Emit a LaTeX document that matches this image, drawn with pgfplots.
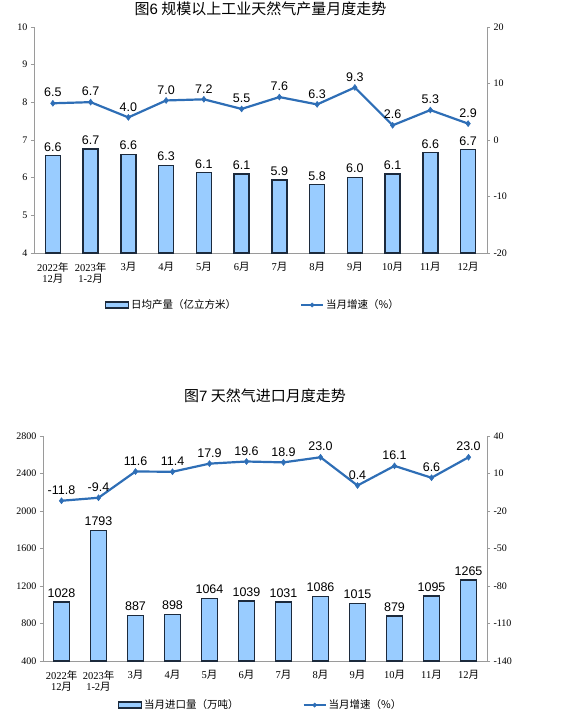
\documentclass[border=0pt]{standalone}
\usepackage{fontspec}
\usepackage{pgfplots}
\pgfplotsset{compat=1.18}
\setmainfont{Liberation Serif}
\newfontfamily\cjk{Noto Sans CJK SC}
\newfontfamily\arial{Liberation Sans}

\definecolor{barfill}{HTML}{99CCFF}
\definecolor{baredge}{HTML}{1C2A3C}
\definecolor{lineblue}{HTML}{2E6EB6}
\definecolor{axisgray}{HTML}{9A9A9A}

\pgfplotsset{
  common/.style={
    scale only axis,
    anchor=south west,
    xmin=-0.5, xmax=11.5,
    axis line style={axisgray, line width=0.8pt},
    tick style={axisgray, line width=0.8pt},
    tick align=outside,
    major tick length=3pt,
    /pgf/number format/assume math mode=true,
    /pgf/number format/1000 sep={},
    yticklabel style={font=\fontsize{10}{11}\selectfont, text=black},
    clip mode=individual,
  },
  barax/.style={
    common,
    axis y line*=left, axis x line*=bottom,
    xtick={0,...,11},
    major x tick style={draw=none},
    xticklabel style={align=center, font=\fontsize{10.5}{11.5}\selectfont, inner sep=1pt, yshift=-5pt},
    xticklabels={{2022{\cjk 年}\\12{\cjk 月}}, {2023{\cjk 年}\\1-2{\cjk 月}},
      3{\cjk 月}, 4{\cjk 月}, 5{\cjk 月}, 6{\cjk 月}, 7{\cjk 月}, 8{\cjk 月},
      9{\cjk 月}, 10{\cjk 月}, 11{\cjk 月}, 12{\cjk 月}},
    legend columns=2,
    legend style={draw=none, fill=none, anchor=center,
      font=\cjk\fontsize{10.5}{12}\selectfont,
      /tikz/every even column/.append style={column sep=62pt}},
  },
  lineax/.style={
    common,
    axis y line*=right, axis x line=none,
    xtick=\empty,
  },
  barplot/.style={
    ybar, fill=barfill, draw=baredge, line width=1.3pt,
    point meta=explicit symbolic,
    nodes near coords={\arial\fontsize{12.5}{13}\selectfont\pgfplotspointmeta},
    nodes near coords style={text=black, inner sep=1pt, yshift=3pt},
    legend image code/.code={\draw[fill=barfill, draw=baredge, line width=1.3pt] (0pt,-3pt) rectangle (23pt,3pt);},
  },
  lineplot/.style={
    lineblue, line width=2.2pt, mark=diamond*, mark size=3pt,
    mark options={solid, fill=lineblue, line width=0.5pt},
    point meta=explicit symbolic,
    nodes near coords={\arial\fontsize{12.5}{13}\selectfont\pgfplotspointmeta},
    nodes near coords style={text=black, inner sep=1pt, yshift=5pt},
  },
  linelegend/.style={
    legend image code/.code={\draw[lineblue, line width=2.2pt] (0pt,0pt) -- (22pt,0pt);
      \fill[lineblue] (11pt,0pt) +(0,2.2pt) -- +(2.2pt,0) -- +(0,-2.2pt) -- +(-2.2pt,0) -- cycle;},
  },
}

\begin{document}
\begin{tikzpicture}
\useasboundingbox (0,0) rectangle (560pt,-717pt);

% chart 6
\begin{axis}[barax, at={(34pt,-253pt)}, width=453pt, height=226pt,
    ymin=4, ymax=10, ytick={4,5,...,10}, bar width=15pt,
    title={\cjk 图{\arial 6} 规模以上工业天然气产量月度走势},
    title style={font=\fontsize{15}{16}\selectfont, inner sep=0pt, yshift=5pt},
    legend style={at={(0.483,-0.23)}}]
\addplot[barplot] coordinates {
  (0,6.58)[6.6] (1,6.76)[6.7] (2,6.62)[6.6] (3,6.32)[6.3] (4,6.13)[6.1] (5,6.10)[6.1]
  (6,5.94)[5.9] (7,5.81)[5.8] (8,6.00)[6.0] (9,6.10)[6.1] (10,6.66)[6.6] (11,6.74)[6.7]};
\addlegendentry{日均产量（亿立方米）}
\addlegendimage{linelegend}
\addlegendentry{当月增速（\%）}
\end{axis}
\begin{axis}[lineax, at={(34pt,-253pt)}, width=453pt, height=226pt,
    ymin=-20, ymax=20, ytick={-20,-10,...,20}]
\addplot[lineplot] coordinates {
  (0,6.5)[6.5] (1,6.7)[6.7] (2,4.0)[4.0] (3,7.0)[7.0] (4,7.2)[7.2] (5,5.5)[5.5]
  (6,7.6)[7.6] (7,6.3)[6.3] (8,9.3)[9.3] (9,2.6)[2.6] (10,5.3)[5.3] (11,2.9)[2.9]};
\end{axis}

% chart 7
\begin{axis}[barax, at={(43pt,-661pt)}, width=444pt, height=225pt,
    ymin=400, ymax=2800, ytick={400,800,...,2800}, bar width=15.5pt,
    title={\cjk 图{\arial 7} 天然气进口月度走势},
    title style={font=\fontsize{15}{16}\selectfont, inner sep=0pt, yshift=27pt},
    legend style={at={(0.49,-0.196)}}]
\addplot[barplot] coordinates {
  (0,1028)[1028] (1,1793)[1793] (2,887)[887] (3,898)[898] (4,1064)[1064] (5,1039)[1039]
  (6,1031)[1031] (7,1086)[1086] (8,1015)[1015] (9,879)[879] (10,1095)[1095] (11,1265)[1265]};
\addlegendentry{当月进口量（万吨）}
\addlegendimage{linelegend}
\addlegendentry{当月增速（\%）}
\end{axis}
\begin{axis}[lineax, at={(43pt,-661pt)}, width=444pt, height=225pt,
    ymin=-140, ymax=40, ytick={-140,-110,...,40}]
\addplot[lineplot] coordinates {
  (0,-11.8)[-11.8] (1,-9.4)[-9.4] (2,11.6)[11.6] (3,11.4)[11.4] (4,17.9)[17.9] (5,19.6)[19.6]
  (6,18.9)[18.9] (7,23.0)[23.0] (8,0.4)[0.4] (9,16.1)[16.1] (10,6.6)[6.6] (11,23.0)[23.0]};
\end{axis}
\end{tikzpicture}
\end{document}
